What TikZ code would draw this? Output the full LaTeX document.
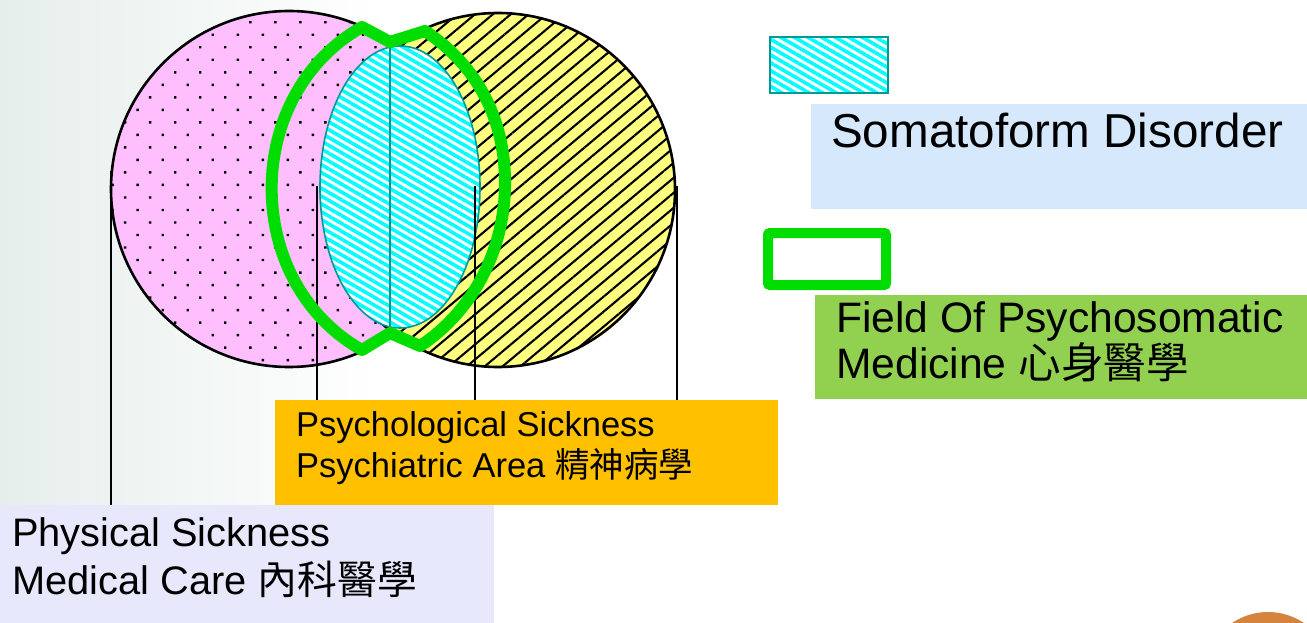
\documentclass[tikz,border=0pt]{standalone}
\usepackage{fontspec}
\setmainfont{Liberation Sans}
\newfontfamily\cjk{Noto Sans CJK TC}
\usepackage{tikz}
\usetikzlibrary{positioning,patterns.meta}
\definecolor{BgTint}{HTML}{E6EEEC}
\definecolor{PinkFill}{HTML}{FFBFFF}
\definecolor{YellowFill}{HTML}{FFFF80}
\definecolor{SomaCyan}{HTML}{00FFFF}
\definecolor{SomaTeal}{HTML}{009999}
\definecolor{PsyGreen}{HTML}{00DD00}
\definecolor{SomaBlue}{HTML}{D6E8FC}
\definecolor{FieldGreen}{HTML}{92D050}
\definecolor{PsyOrange}{HTML}{FFC000}
\definecolor{PhysLav}{HTML}{E8E8FC}
\definecolor{CornerOrange}{HTML}{D5843D}

\begin{document}
\begin{tikzpicture}[x=1pt,y=-1pt,
 box/.style={anchor=north west,inner sep=0pt,outer sep=0pt},
 boxtext/.style={anchor=base west,inner sep=0pt,align=left},
 ring/.style={draw=black,line width=2.6pt},
 lead/.style={draw=black,line width=2.8pt},
 stripes/.style={pattern={Lines[angle=-30,distance=6.8pt,line width=3.6pt]},pattern color=SomaCyan}]
\useasboundingbox (0,0) rectangle (1307,623);
\clip (0,0) rectangle (1307,623);
\shade[left color=BgTint,right color=white] (0,0) rectangle (380,623);
% the two circles
\draw[ring,preaction={fill=PinkFill},pattern={Dots[distance=17.7pt,angle=45,radius=1.7pt]},pattern color=black] (289,189) circle (178pt);
\draw[ring,preaction={fill=YellowFill},pattern={Lines[angle=40,distance=11.5pt,line width=2.1pt]},pattern color=black] (498,190) circle (177pt);
% somatoform lens
\path[fill=white] (400,187) ellipse [x radius=80pt,y radius=141pt];
\draw[SomaTeal,line width=1.6pt,stripes] (400,187) ellipse [x radius=80pt,y radius=141pt];
\draw[SomaTeal,line width=2.5pt] (390,47) -- (390,328);
% boxes
\node[box,fill=SomaBlue,minimum width=496pt,minimum height=105pt] (somabox) at (811,104) {};
\node[box,fill=FieldGreen,minimum width=492pt,minimum height=104pt] (fieldbox) at (815,295) {};
\node[box,fill=PsyOrange,minimum width=503pt,minimum height=105pt] (psybox) at (275,400) {};
\node[box,fill=PhysLav,minimum width=494pt,minimum height=118pt] (physbox) at (0,505) {};
% leads down to the boxes
\coordinate (pinkfoot) at (111,171);
\coordinate (lensleft) at (317,186);
\coordinate (lensright) at (475,186);
\coordinate (yellowfoot) at (677,186);
\draw[lead] (pinkfoot) -- (pinkfoot |- physbox.north);
\draw[lead] (lensleft) -- (lensleft |- psybox.north);
\draw[lead] (lensright) -- (lensright |- psybox.north);
\draw[lead] (yellowfoot) -- (yellowfoot |- psybox.north);
% psychosomatic field
\draw[PsyGreen,line width=12pt,line join=round] (390,42) -- (362,27)
  .. controls (300,62) and (268,130) .. (272,200)
  .. controls (276,268) and (312,322) .. (362,350) -- (390,333) -- (420,346)
  .. controls (472,312) and (506,250) .. (505,180)
  .. controls (504,112) and (472,62) .. (425,31) -- cycle;
% legend keys
\node[draw=SomaTeal,line width=2.5pt,minimum width=118pt,minimum height=56pt,inner sep=0pt,preaction={fill=white},stripes] (somakey) at (829,65) {};
\node[draw=PsyGreen,line width=10pt,rounded corners=2pt,minimum width=118pt,minimum height=52pt,inner sep=0pt,fill=white] (fieldkey) at (827,259) {};
% texts (base = last line)
\node[boxtext,font=\fontsize{47.6}{56}\selectfont] (somatext) at ([shift={(20,44)}]somabox.north west) {Somatoform Disorder};
\node[boxtext,font=\fontsize{42.6}{43}\selectfont] (fieldtext) at ([shift={(21,83)}]fieldbox.north west) {Field Of Psychosomatic\\Medicine {\cjk 心身醫學}};
\node[boxtext,font=\fontsize{34.5}{41}\selectfont] (psytext) at ([shift={(21,77)}]psybox.north west) {Psychological Sickness\\Psychiatric Area {\cjk 精神病學}};
\node[boxtext,font=\fontsize{39.8}{48}\selectfont] (phystext) at ([shift={(12,89)}]physbox.north west) {Physical Sickness\\Medical Care {\cjk 內科醫學}};
\fill[CornerOrange] (1268,676) circle (64pt);
\end{tikzpicture}
\end{document}
